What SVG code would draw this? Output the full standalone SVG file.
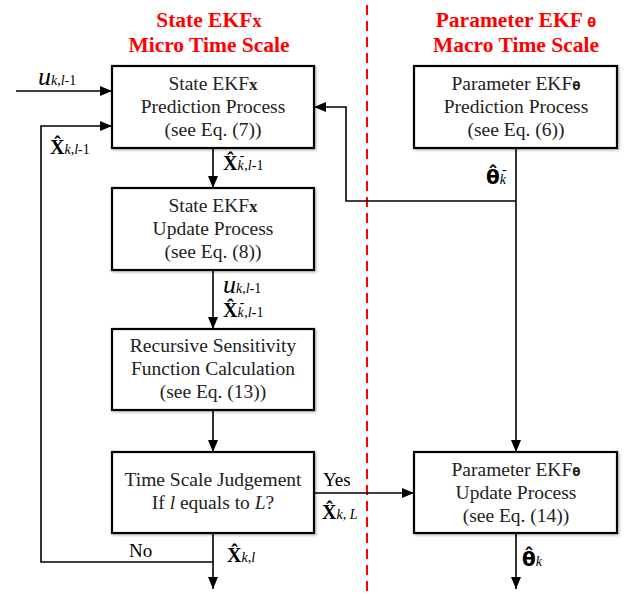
<svg xmlns="http://www.w3.org/2000/svg" width="629" height="595" viewBox="0 0 629 595">
<defs>
<marker id="ah" markerUnits="userSpaceOnUse" markerWidth="12" markerHeight="10" refX="12" refY="5" orient="auto">
<path d="M0,0 L12,5 L0,10 z" fill="#000"/>
</marker>
<filter id="sh" x="-5%" y="-5%" width="115%" height="120%">
<feDropShadow dx="1.5" dy="1.5" stdDeviation="1" flood-color="#000" flood-opacity="0.25"/>
</filter>
</defs>
<style>
text{font-family:'Liberation Serif','Times New Roman','DejaVu Serif',serif}
.box{fill:#fff;stroke:#000;stroke-width:2.2;filter:url(#sh)}
.t{font-size:19.5px;fill:#222;text-anchor:middle}
.title{font-size:21.5px;font-weight:bold;fill:#f00;text-anchor:middle}
.ln{fill:none;stroke:#000;stroke-width:1.6}
.arr{marker-end:url(#ah)}
.lb{font-size:19px;fill:#000}
.bx{font-weight:bold;font-size:20px}
.sb{font-style:italic;font-size:14px}
.sr{font-style:normal;font-size:14px}
.th{font-family:'DejaVu Sans',sans-serif;font-weight:bold;font-size:20px}
.g{font-family:'DejaVu Sans',sans-serif;font-weight:bold;font-size:12px}
</style>

<line x1="367" y1="5" x2="367" y2="595" stroke="#f00" stroke-width="2" stroke-dasharray="10,6"/>

<g id="titles">
<text class="title" x="209" y="27">State EKF<tspan font-size="19">x</tspan></text>
<text class="title" x="209" y="52">Micro Time Scale</text>
<text class="title" x="516" y="27">Parameter EKF <tspan font-size="13" font-family="'DejaVu Sans',sans-serif">θ</tspan></text>
<text class="title" x="516" y="52">Macro Time Scale</text>
</g>

<g id="connectors">
<line class="ln arr" x1="16" y1="91" x2="112" y2="91"/>
<polyline class="ln arr" points="213,562 41,562 41,126 112,126"/>
<line class="ln arr" x1="213" y1="148" x2="213" y2="188"/>
<line class="ln arr" x1="213" y1="270" x2="213" y2="329"/>
<line class="ln arr" x1="213" y1="410" x2="213" y2="452"/>
<line class="ln arr" x1="213" y1="533" x2="213" y2="589"/>
<line class="ln arr" x1="516" y1="148" x2="516" y2="452"/>
<polyline class="ln arr" points="516,201 346,201 346,107 314,107"/>
<line class="ln arr" x1="314" y1="493" x2="414" y2="493"/>
<line class="ln arr" x1="516" y1="533" x2="516" y2="589"/>
</g>

<g id="labels">
<text x="38" y="85"><tspan font-style="italic" font-size="26">u</tspan><tspan class="sb">k</tspan><tspan class="sr">,</tspan><tspan class="sb">l</tspan><tspan class="sr">-1</tspan></text>
<text x="50" y="154"><tspan class="bx">X̂</tspan><tspan class="sb">k</tspan><tspan class="sr">,</tspan><tspan class="sb">l</tspan><tspan class="sr">-1</tspan></text>
<text x="223" y="170"><tspan class="bx">X̂</tspan><tspan class="sb">k</tspan><tspan class="sr" dx="-4" dy="-10">-</tspan><tspan class="sr" dy="10">,</tspan><tspan class="sb">l</tspan><tspan class="sr">-1</tspan></text>
<text x="223" y="293"><tspan font-style="italic" font-size="26">u</tspan><tspan class="sb">k</tspan><tspan class="sr">,</tspan><tspan class="sb">l</tspan><tspan class="sr">-1</tspan></text>
<text x="223" y="317"><tspan class="bx">X̂</tspan><tspan class="sb">k</tspan><tspan class="sr" dx="-4" dy="-10">-</tspan><tspan class="sr" dy="10">,</tspan><tspan class="sb">l</tspan><tspan class="sr">-1</tspan></text>
<text x="486" y="184"><tspan class="th">θ̂</tspan><tspan class="sb">k</tspan><tspan class="sr" dx="-4" dy="-10">-</tspan></text>
<text class="lb" x="323" y="486">Yes</text>
<text x="322" y="519"><tspan class="bx">X̂</tspan><tspan class="sb">k</tspan><tspan class="sr">, </tspan><tspan class="sb">L</tspan></text>
<text class="lb" x="129" y="557">No</text>
<text x="227" y="562"><tspan class="bx">X̂</tspan><tspan class="sb">k</tspan><tspan class="sr">,</tspan><tspan class="sb">l</tspan></text>
<text x="522" y="566"><tspan class="th">θ̂</tspan><tspan class="sb">k</tspan></text>
</g>

<g id="state-pred">
<rect class="box" x="112" y="66" width="202" height="82"/>
<text class="t" x="213" y="90">State EKF<tspan font-weight="bold" font-size="17">x</tspan></text>
<text class="t" x="213" y="113">Prediction Process</text>
<text class="t" x="213" y="136">(see Eq. (7))</text>
</g>

<g id="param-pred">
<rect class="box" x="414" y="66" width="203" height="82"/>
<text class="t" x="516" y="90">Parameter EKF<tspan class="g">θ</tspan></text>
<text class="t" x="516" y="113">Prediction Process</text>
<text class="t" x="516" y="136">(see Eq. (6))</text>
</g>

<g id="state-update">
<rect class="box" x="112" y="188" width="202" height="82"/>
<text class="t" x="213" y="212">State EKF<tspan font-weight="bold" font-size="17">x</tspan></text>
<text class="t" x="213" y="235">Update Process</text>
<text class="t" x="213" y="258">(see Eq. (8))</text>
</g>

<g id="sensitivity">
<rect class="box" x="112" y="329" width="202" height="81"/>
<text class="t" x="213" y="352">Recursive Sensitivity</text>
<text class="t" x="213" y="375">Function Calculation</text>
<text class="t" x="213" y="398">(see Eq. (13))</text>
</g>

<g id="judgement">
<rect class="box" x="112" y="452" width="202" height="81"/>
<text class="t" x="213" y="486">Time Scale Judgement</text>
<text class="t" x="213" y="509">If <tspan font-style="italic">l</tspan> equals to <tspan font-style="italic">L</tspan>?</text>
</g>

<g id="param-update">
<rect class="box" x="414" y="452" width="203" height="81"/>
<text class="t" x="516" y="476">Parameter EKF<tspan class="g">θ</tspan></text>
<text class="t" x="516" y="499">Update Process</text>
<text class="t" x="516" y="522">(see Eq. (14))</text>
</g>
</svg>
